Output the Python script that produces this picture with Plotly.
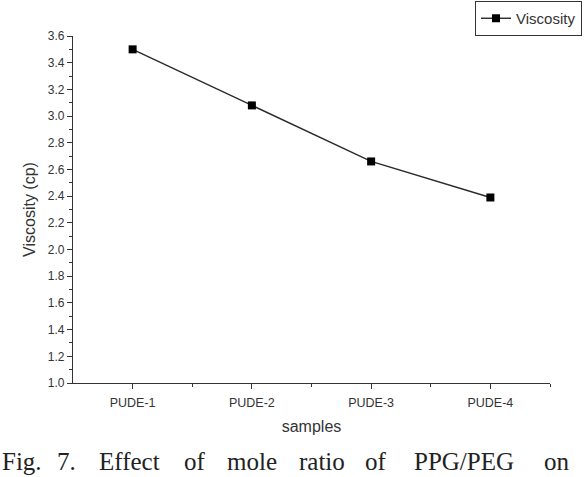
import plotly.graph_objects as go

samples = ["PUDE-1", "PUDE-2", "PUDE-3", "PUDE-4"]
viscosity = [3.50, 3.08, 2.66, 2.39]
y_ticks = [1.0, 1.2, 1.4, 1.6, 1.8, 2.0, 2.2, 2.4, 2.6, 2.8, 3.0, 3.2, 3.4, 3.6]
caption_words = ["Fig.", "7.", "Effect", "of", "mole", "ratio", "of", "PPG/PEG", "on"]
caption_px = [0, 55, 97, 182, 225, 297, 363, 412, 542]

W, H = 584, 477
L, R, T, B = 73, 34, 36, 94
pw, ph = W - L - R, H - T - B

fig = go.Figure()
fig.add_trace(go.Scatter(
    x=list(range(len(samples))), y=viscosity, mode="lines+markers",
    name="Viscosity",
    line=dict(color="#2a2a2a", width=1.4),
    marker=dict(symbol="square", size=8, color="black"),
))

tick_col = "#333333"
fig.update_xaxes(
    range=[-0.5, 3.5], tickvals=list(range(len(samples))), ticktext=samples,
    showgrid=False, zeroline=False, showline=True, linecolor=tick_col, linewidth=1.2,
    ticks="outside", ticklen=5, tickcolor=tick_col, ticklabelstandoff=3,
    tickfont=dict(family="Liberation Sans, Arial", size=12.5, color=tick_col),
    minor=dict(tickvals=[0.5, 1.5, 2.5, 3.5], ticks="outside", ticklen=3, tickcolor=tick_col),
    title=dict(text="samples", font=dict(family="Liberation Sans, Arial", size=16, color=tick_col), standoff=11),
)
fig.update_yaxes(
    range=[1.0, 3.6], tickvals=y_ticks, tickformat=".1f",
    showgrid=False, zeroline=False, showline=True, linecolor=tick_col, linewidth=1.2,
    ticks="outside", ticklen=5, tickcolor=tick_col,
    tickfont=dict(family="Liberation Sans, Arial", size=12, color=tick_col),
    minor=dict(dtick=0.1, ticks="outside", ticklen=3, tickcolor=tick_col),
    title=dict(text="Viscosity (cp)", font=dict(family="Liberation Sans, Arial", size=16, color=tick_col), standoff=8),
)

annotations = []
for word, px in zip(caption_words, caption_px):
    annotations.append(dict(
        text=word, xref="paper", yref="paper",
        x=(px - L) / pw, y=(H - B - 477) / ph, xanchor="left", yanchor="bottom",
        showarrow=False, font=dict(family="Liberation Serif, Times New Roman", size=25, color="#222222"),
    ))

fig.update_layout(
    width=W, height=H, margin=dict(l=L, r=R, t=T, b=B, autoexpand=False),
    paper_bgcolor="white", plot_bgcolor="white",
    showlegend=True,
    legend=dict(x=(582 - L) / pw, xanchor="right", y=(H - B - 1) / ph, yanchor="top",
                bordercolor="#333333", borderwidth=1, bgcolor="white",
                font=dict(family="Liberation Sans, Arial", size=15, color="#333333"),
                tracegroupgap=0, itemwidth=30),
    annotations=annotations,
)

fig.write_html("out.html")
